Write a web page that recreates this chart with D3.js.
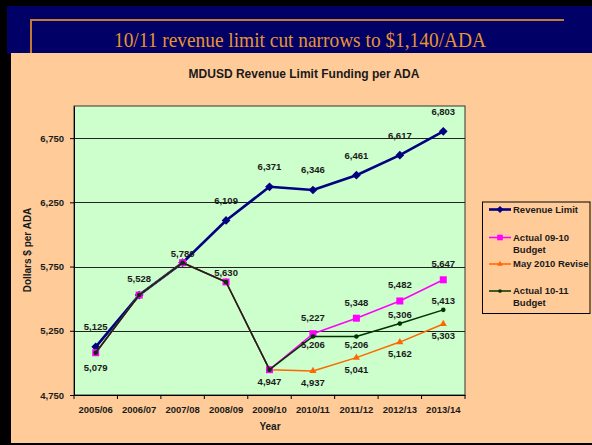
<!DOCTYPE html>
<html lang="en">
  <head>
    <meta charset="UTF-8" />
    <title>MDUSD Revenue Limit Funding per ADA</title>
    <script src="https://d3js.org/d3.v7.min.js"></script>
    <style>
      body { margin: 0; background: #000; }
      text { font-family: "Liberation Sans", Arial, sans-serif; font-weight: bold; fill: #1a1a1a; }
      .header-title { font-family: "Liberation Serif", "Times New Roman", serif; font-weight: normal; fill: #e8952f; }
      .axis path, .axis line { stroke: #000; }
    </style>
  </head>
  <body>
    <svg width="592" height="445"></svg>
    <script>
      // data
      const years = ["2005/06", "2006/07", "2007/08", "2008/09", "2009/10", "2010/11", "2011/12", "2012/13", "2013/14"];
      const revenueLimit = [5125, 5528, 5780, 6109, 6371, 6346, 6461, 6617, 6803];
      const budget0910 = [5079, 5528, 5780, 5630, 4947, 5227, 5348, 5482, 5647];
      const revise2010 = [5079, 5528, 5780, 5630, 4947, 4937, 5041, 5162, 5303];
      const budget1011 = [5079, 5528, 5780, 5630, 4947, 5206, 5206, 5306, 5413];
      const yTicks = [4750, 5250, 5750, 6250, 6750];

      // which side each data label sits on (null = no label)
      const revenueLabels = ["up", null, null, "up", "up", "up", "up", "up", "up"];
      const budget0910Labels = ["down", "up", null, null, null, "up", "up", "up", "up"];
      const revise2010Labels = [null, null, null, null, "down", "down", "down", "down", "down"];
      const budget1011Labels = [null, null, "up", "up", null, "down", "down", "up", "up"];

      const svg = d3.select("svg");

      // background frame
      svg.append("rect").attr("x", 0).attr("y", 0).attr("width", 592).attr("height", 445).attr("fill", "#000");
      svg.append("rect").attr("x", 7).attr("y", 6).attr("width", 585).attr("height", 48).attr("fill", "#000066");
      svg.append("rect").attr("x", 11).attr("y", 53).attr("width", 581).attr("height", 390).attr("fill", "#ffcc99");
      svg.append("path").attr("d", "M31,53V20H564").attr("fill", "none").attr("stroke", "#c47a32").attr("stroke-width", 2);

      svg.append("text").attr("class", "header-title")
        .attr("x", 300).attr("y", 46.5).attr("text-anchor", "middle")
        .attr("font-size", 21).attr("textLength", 372).attr("lengthAdjust", "spacingAndGlyphs")
        .text("10/11 revenue limit cut narrows to $1,140/ADA");

      svg.append("text").attr("x", 304).attr("y", 77.5).attr("text-anchor", "middle")
        .attr("font-size", 12).text("MDUSD Revenue Limit Funding per ADA");

      // plot area
      const plotL = 74, plotR = 465, plotT = 106, plotB = 395;
      const x = d3.scaleBand().domain(years).range([plotL, plotR]).padding(0);
      const cx = (d) => x(d) + x.bandwidth() / 2;
      const y = d3.scaleLinear().domain([4750, 7000]).range([plotB, plotT]);

      svg.append("rect").attr("x", plotL).attr("y", plotT).attr("width", plotR - plotL).attr("height", plotB - plotT)
        .attr("fill", "#ccffcc").attr("stroke", "#333").attr("stroke-width", 1);

      // gridlines
      svg.append("g").selectAll("line").data(yTicks.filter((d) => d > 4750)).join("line")
        .attr("x1", plotL).attr("x2", plotR)
        .attr("y1", (d) => Math.round(y(d)) + 0.5).attr("y2", (d) => Math.round(y(d)) + 0.5)
        .attr("stroke", "#222").attr("stroke-width", 1);

      // axes
      const yAxis = svg.append("g").attr("class", "axis").attr("transform", `translate(${plotL},0)`)
        .call(d3.axisLeft(y).tickValues(yTicks).tickFormat(d3.format(",")).tickSize(4).tickPadding(6).tickSizeOuter(0));
      yAxis.selectAll("text").attr("font-size", 9.5).attr("font-family", null);

      const xAxis = svg.append("g").attr("class", "axis").attr("transform", `translate(0,${plotB})`)
        .call(d3.axisBottom(x).tickSize(0).tickPadding(11).tickSizeOuter(0));
      xAxis.selectAll("text").attr("font-size", 9.5).attr("font-family", null);
      // ticks sit between the categories
      xAxis.selectAll(".bound").data(years.map((d) => x(d)).concat([plotR])).join("line")
        .attr("class", "bound").attr("x1", (d) => d).attr("x2", (d) => d)
        .attr("y1", 0).attr("y2", 4).attr("stroke", "#000");

      svg.append("text").attr("x", 270).attr("y", 430).attr("text-anchor", "middle")
        .attr("font-size", 10).text("Year");
      svg.append("text").attr("transform", "translate(31,250) rotate(-90)").attr("text-anchor", "middle")
        .attr("font-size", 10).text("Dollars $ per ADA");

      // series
      const series = [
        { name: "Revenue Limit", values: revenueLimit, labels: revenueLabels, color: "#000080", width: 2.6, shape: "diamond", up: -20, down: 14 },
        { name: "May 2010 Revise", values: revise2010, labels: revise2010Labels, color: "#ff6600", width: 1.5, shape: "triangle", up: -12, down: 12 },
        { name: "Actual 09-10 Budget", values: budget0910, labels: budget0910Labels, color: "#ff00ff", width: 1.5, shape: "square", up: -16, down: 15 },
        { name: "Actual 10-11 Budget", values: budget1011, labels: budget1011Labels, color: "#003300", width: 1.5, shape: "circle", up: -9, down: 8 },
      ];

      const marker = (g, s) => {
        if (s.shape === "diamond") {
          g.append("path").attr("d", d3.symbol(d3.symbolSquare, 38)()).attr("transform", "rotate(45)").attr("fill", s.color);
        } else if (s.shape === "square") {
          g.append("rect").attr("x", -3.5).attr("y", -3.5).attr("width", 7).attr("height", 7).attr("fill", s.color);
        } else if (s.shape === "triangle") {
          g.append("path").attr("d", d3.symbol(d3.symbolTriangle, 22)()).attr("fill", s.color);
        } else {
          g.append("circle").attr("r", 2.3).attr("fill", s.color);
        }
      };

      const line = d3.line().x((d, i) => cx(years[i])).y((d) => y(d));

      series.forEach((s) => {
        const g = svg.append("g");
        g.append("path").attr("d", line(s.values)).attr("fill", "none")
          .attr("stroke", s.color).attr("stroke-width", s.width).attr("stroke-linejoin", "round");
        s.values.forEach((v, i) => {
          const m = g.append("g").attr("transform", `translate(${cx(years[i])},${y(v)})`);
          marker(m, s);
        });
      });

      // data labels on top
      series.forEach((s) => {
        svg.append("g").selectAll("text").data(s.values.map((v, i) => ({ v, i, side: s.labels[i] })).filter((d) => d.side))
          .join("text")
          .attr("x", (d) => cx(years[d.i]))
          .attr("y", (d) => y(d.v) + (d.side === "up" ? s.up : s.down))
          .attr("dy", "0.35em").attr("text-anchor", "middle").attr("font-size", 9.5)
          .text((d) => d3.format(",")(d.v));
      });

      // legend
      const legend = svg.append("g");
      legend.append("rect").attr("x", 482.5).attr("y", 202).attr("width", 107.5).attr("height", 111.5)
        .attr("fill", "none").attr("stroke", "#000").attr("stroke-width", 1);
      const legendItems = [
        { s: series[0], lines: ["Revenue Limit"], ly: 209.5 },
        { s: series[2], lines: ["Actual 09-10", "Budget"], ly: 237.5 },
        { s: series[1], lines: ["May 2010 Revise"], ly: 264 },
        { s: series[3], lines: ["Actual 10-11", "Budget"], ly: 291 },
      ];
      legendItems.forEach((it) => {
        const g = legend.append("g");
        g.append("line").attr("x1", 489).attr("x2", 511).attr("y1", it.ly).attr("y2", it.ly)
          .attr("stroke", it.s.color).attr("stroke-width", it.s.width);
        const m = g.append("g").attr("transform", `translate(500,${it.ly}) scale(0.8)`);
        marker(m, it.s);
        it.lines.forEach((t, k) => {
          g.append("text").attr("x", 513).attr("y", it.ly + k * 11.8).attr("dy", "0.35em")
            .attr("font-size", 9.5).text(t);
        });
      });
    </script>
  </body>
</html>
